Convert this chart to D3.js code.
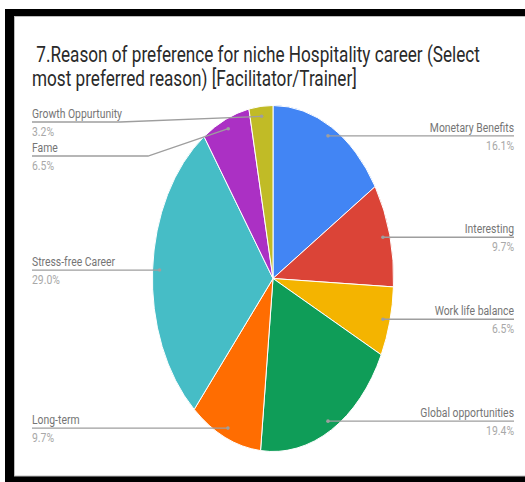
<!DOCTYPE html>
<html>
<head>
<meta charset="utf-8">
<script src="https://cdn.jsdelivr.net/npm/d3@7"></script>
<style>
  html, body { margin: 0; padding: 0; background: #fff; }
  svg { display: block; }
  text { font-family: Roboto, "Noto Sans", sans-serif; }
</style>
</head>
<body>
<svg id="chart" width="525" height="482"></svg>
<script>
// Survey answers, share of respondents (%)
const categories = ["Monetary Benefits", "Interesting", "Work life balance", "Global opportunities",
                    "Long-term", "Stress-free Career", "Fame", "Growth Oppurtunity"];
const shares = [16.1, 9.7, 6.5, 19.4, 9.7, 29.0, 6.5, 3.2];
const colors = ["#4285f4", "#db4437", "#f4b400", "#0f9d58", "#ff6d01", "#46bdc6", "#ab30c4", "#c1bb26"];
const titleLines = [" 7.Reason of preference for niche Hospitality career (Select",
                    "most preferred reason) [Facilitator/Trainer]"];

const W = 525, H = 482;
const svg = d3.select("#chart");

// frame
svg.append("rect").attr("x", 5).attr("y", 9).attr("width", W).attr("height", H).attr("fill", "#000");
svg.append("rect").attr("x", 14.5).attr("y", 16.5).attr("width", W).attr("height", 459.5)
  .attr("fill", "#fff").attr("stroke", "#bdbdbd").attr("stroke-width", 1);

// title (condensed look by horizontal scaling)
const condense = 0.78;
titleLines.forEach((t, i) => {
  svg.append("text")
    .attr("transform", `translate(32,${62 + i * 24}) scale(${condense},1)`)
    .attr("xml:space", "preserve")
    .style("white-space", "pre")
    .attr("font-size", 22)
    .attr("fill", "#2a2a2a")
    .text(t);
});

// pie geometry: drawn on a circle, then squeezed horizontally into an ellipse
const cx = 273, cy = 278.5, R = 173, sx = 0.697;
const data = categories.map((c, i) => ({ name: c, value: shares[i], color: colors[i] }));
const pie = d3.pie().value(d => d.value).sort(null);
const arcs = pie(data);
const arc = d3.arc().innerRadius(0).outerRadius(R);

const g = svg.append("g").attr("transform", `translate(${cx},${cy}) scale(${sx},1)`);
g.selectAll("path").data(arcs).join("path")
  .attr("d", arc)
  .attr("fill", d => d.data.color)
  .attr("stroke", "#fff")
  .attr("stroke-width", 1)
  .attr("vector-effect", "non-scaling-stroke");

// anchor point inside each slice
const rDot = 163;
function anchor(d) {
  const a = (d.startAngle + d.endAngle) / 2;
  return [cx + Math.sin(a) * rDot * sx, cy - Math.cos(a) * rDot];
}

// label placement: right half to the right edge, left half from the left edge
const rightX = 514, leftX = 32;
// the two small slices at the top-left are pushed apart vertically
const leftLabelY = { "Growth Oppurtunity": 122, "Fame": 156 };
const leftKnee = { "Growth Oppurtunity": 120, "Fame": 148 };

const labelScale = 0.8;
const lineColor = "#9e9e9e";

arcs.forEach(d => {
  const [ax, ay] = anchor(d);
  const mid = (d.startAngle + d.endAngle) / 2;
  const right = mid < Math.PI;
  let ly = ay;
  let pts;
  if (right) {
    pts = [[ax, ay], [rightX, ay]];
  } else if (leftLabelY[d.data.name] !== undefined) {
    ly = leftLabelY[d.data.name];
    pts = [[ax, ay], [leftKnee[d.data.name], ly], [leftX, ly]];
  } else {
    pts = [[ax, ay], [leftX, ay]];
  }
  svg.append("path")
    .attr("d", d3.line()(pts))
    .attr("fill", "none")
    .attr("stroke", lineColor)
    .attr("stroke-width", 1.3);
  svg.append("circle").attr("cx", ax).attr("cy", ay).attr("r", 1.8).attr("fill", lineColor);

  const tx = right ? rightX : leftX;
  const anchorTxt = right ? "end" : "start";
  svg.append("text")
    .attr("transform", `translate(${tx},${ly - 4}) scale(${labelScale},1)`)
    .attr("text-anchor", anchorTxt)
    .attr("font-size", 13)
    .attr("fill", "#757575")
    .text(d.data.name);
  svg.append("text")
    .attr("transform", `translate(${tx},${ly + 14}) scale(${labelScale},1)`)
    .attr("text-anchor", anchorTxt)
    .attr("font-size", 13)
    .attr("fill", "#a8a8a8")
    .text(d3.format(".1f")(d.data.value) + "%");
});
</script>
</body>
</html>
